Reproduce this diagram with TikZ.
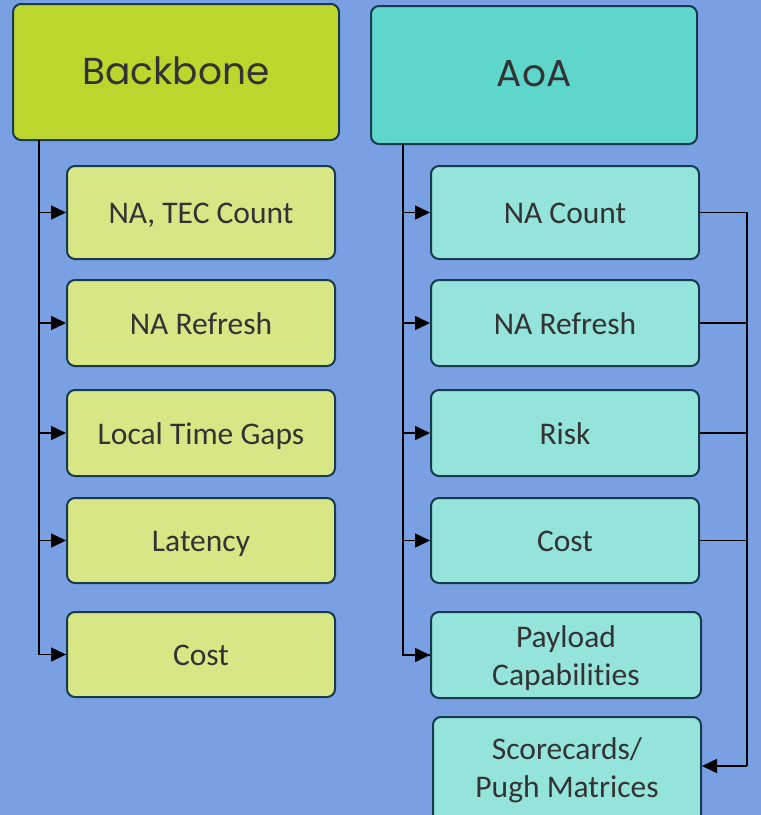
\documentclass[tikz,border=0pt]{standalone}
\usepackage{fontspec}
\setmainfont[Ligatures=NoCommon]{Carlito}
\newfontfamily\headfont{Poppins}
\usetikzlibrary{arrows.meta}
\definecolor{bg}{HTML}{7AA0E4}
\definecolor{limeHead}{HTML}{BDD62D}
\definecolor{limeChild}{HTML}{D8E685}
\definecolor{tealHead}{HTML}{5ED6CC}
\definecolor{tealChild}{HTML}{94E4DC}
\definecolor{edge}{HTML}{173A4C}
\definecolor{txt}{HTML}{333333}
\newcommand\lowtxt[1]{\begin{tabular}{@{}c@{}}\rule{0pt}{34pt}#1\end{tabular}}
\begin{document}
\begin{tikzpicture}[x=1pt,y=-1pt,
  box/.style={draw=edge, line width=2pt, rounded corners=8pt, text=txt, inner sep=0pt, align=center},
  headbox/.style={box, minimum width=326pt, font=\headfont\fontsize{37.5}{40}\selectfont},
  childbox/.style={box, minimum width=268pt, font=\fontsize{31.5}{37.5}\selectfont},
  conn/.style={line width=1.6pt, black},
  arr/.style={conn, -{Triangle[length=15pt,width=14pt]}}
]
\path[use as bounding box, fill=bg] (0,0) rectangle (761,815);
\begin{scope}
\clip (0,0) rectangle (761,815);
% headers
\node[headbox, fill=limeHead, minimum height=136pt] (bb) at (176,72) {\raisebox{3pt}{Backbone}};
\node[headbox, fill=tealHead, minimum height=138pt] (aoa) at (534,75) {\raisebox{3pt}{AoA}};
% backbone children
\node[childbox, fill=limeChild, minimum height=93pt] (b1) at (201,212.5) {\lowtxt{NA, TEC Count}};
\node[childbox, fill=limeChild, minimum height=86pt] (b2) at (201,323) {\lowtxt{NA Refresh}};
\node[childbox, fill=limeChild, minimum height=86pt] (b3) at (201,433) {\lowtxt{Local Time Gaps}};
\node[childbox, fill=limeChild, minimum height=85pt] (b4) at (201,540.5) {\lowtxt{Latency}};
\node[childbox, fill=limeChild, minimum height=85pt] (b5) at (201,654.5) {\lowtxt{Cost}};
% aoa children
\node[childbox, fill=tealChild, minimum height=93pt] (a1) at (565,212.5) {\lowtxt{NA Count}};
\node[childbox, fill=tealChild, minimum height=86pt] (a2) at (565,323) {\lowtxt{NA Refresh}};
\node[childbox, fill=tealChild, minimum height=86pt] (a3) at (565,433) {\lowtxt{Risk}};
\node[childbox, fill=tealChild, minimum height=85pt] (a4) at (565,540.5) {\lowtxt{Cost}};
\node[childbox, fill=tealChild, minimum height=86pt, minimum width=270pt] (a5) at (566,655) {\lowtxt{Payload\\Capabilities}};
\node[childbox, fill=tealChild, minimum height=124pt, anchor=north] (a6) at (567,716) {};
\node[text=txt, font=\fontsize{31.5}{37.5}\selectfont, align=center] (a6t) at (567,767) {\lowtxt{Scorecards/\\Pugh Matrices}};
\end{scope}
% trunks
\coordinate (bbtrunk) at (39,140);
\coordinate (aoatrunk) at (403,144);
\coordinate (busbot) at (747,766);
\draw[conn] (bbtrunk) |- (b5.west);
\draw[arr] (bbtrunk |- b5.west) -- (b5.west);
\foreach \n in {b1,b2,b3,b4} \draw[arr] (bbtrunk |- \n.west) -- (\n.west);
\draw[conn] (aoatrunk) |- (a5.west);
\draw[arr] (aoatrunk |- a5.west) -- (a5.west);
\foreach \n in {a1,a2,a3,a4} \draw[arr] (aoatrunk |- \n.west) -- (\n.west);
% right bus
\draw[conn] (a1.east) -| (busbot);
\foreach \n in {a2,a3,a4} \draw[conn] (\n.east) -- (\n.east -| busbot);
\draw[arr] (busbot) -- (busbot -| a6.east);
\end{tikzpicture}
\end{document}
